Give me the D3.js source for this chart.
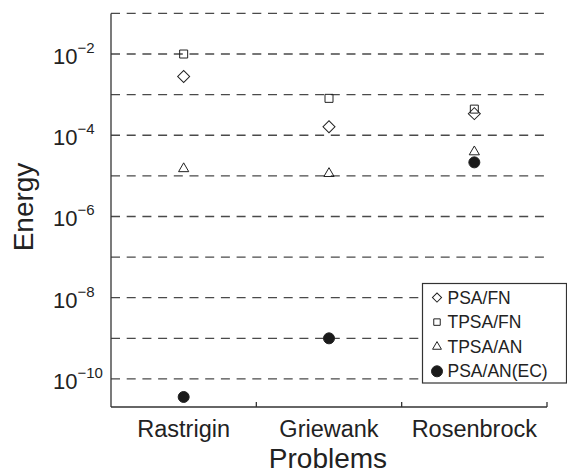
<!DOCTYPE html>
<html>
<head>
<meta charset="utf-8">
<script src="https://cdn.jsdelivr.net/npm/d3@7"></script>
<style>
  html, body { margin: 0; padding: 0; background: #fff; }
  svg { display: block; }
  text { font-family: "Liberation Sans", Arial, sans-serif; fill: #222; }
</style>
</head>
<body>
<svg id="chart" width="567" height="474"></svg>
<script>
// Benchmark problems on the x axis
const problems = ["Rastrigin", "Griewank", "Rosenbrock"];

// Series names and final energies per problem
const seriesNames = ["PSA/FN", "TPSA/FN", "TPSA/AN", "PSA/AN(EC)"];
const psaFN    = [2.8e-3, 1.62e-4, 3.4e-4];
const tpsaFN   = [1.0e-2, 8.1e-4, 4.4e-4];
const tpsaAN   = [1.5e-5, 1.14e-5, 3.9e-5];
const psaANEC  = [3.6e-11, 1.0e-9, 2.15e-5];

// Axis ticks: dashed grid at each decade, labels on even exponents
const gridExponents  = [-1, -2, -3, -4, -5, -6, -7, -8, -9, -10];
const labelExponents = [-2, -4, -6, -8, -10];

const svg = d3.select("#chart");
const plotLeft = 111, plotRight = 547, plotTop = 13.4, plotBottom = 407;

const x = d3.scaleBand().domain(problems).range([plotLeft, plotRight]).padding(0);
const y = d3.scaleLog().domain([2.04e-11, 0.1]).range([plotBottom, plotTop]);

// Dashed grid lines
svg.append("g")
  .selectAll("line")
  .data(gridExponents)
  .join("line")
  .attr("x1", plotLeft).attr("x2", plotRight)
  .attr("y1", d => y(Math.pow(10, d))).attr("y2", d => y(Math.pow(10, d)))
  .attr("stroke", "#4a4a4a")
  .attr("stroke-width", 1.3)
  .attr("stroke-dasharray", "9,6.7");

// Y axis line
svg.append("line")
  .attr("x1", plotLeft).attr("x2", plotLeft).attr("y1", plotTop).attr("y2", plotBottom)
  .attr("stroke", "#333").attr("stroke-width", 1.3);

// X axis with upward ticks at the category boundaries
svg.append("line")
  .attr("x1", plotLeft).attr("x2", plotRight).attr("y1", plotBottom).attr("y2", plotBottom)
  .attr("stroke", "#333").attr("stroke-width", 1.3);
svg.append("g")
  .selectAll("line")
  .data(problems)
  .join("line")
  .attr("x1", d => x(d) + x.bandwidth()).attr("x2", d => x(d) + x.bandwidth())
  .attr("y1", plotBottom).attr("y2", plotBottom - 5)
  .attr("stroke", "#333").attr("stroke-width", 1.3);

// Y tick labels as powers of ten
const yLabels = svg.append("g")
  .selectAll("text")
  .data(labelExponents)
  .join("text")
  .attr("x", 53)
  .attr("y", d => y(Math.pow(10, d)) + 10)
  .style("font-size", "22px");
yLabels.append("tspan").text("10");
yLabels.append("tspan")
  .attr("dy", -11)
  .style("font-size", "15px")
  .text(d => "\u2212" + Math.abs(d));

// Category labels
svg.append("g")
  .selectAll("text")
  .data(problems)
  .join("text")
  .attr("x", d => x(d) + x.bandwidth() / 2)
  .attr("y", 437)
  .attr("text-anchor", "middle")
  .style("font-size", "23.5px")
  .text(d => d);

// Axis titles
svg.append("text")
  .attr("x", 328).attr("y", 468)
  .attr("text-anchor", "middle")
  .style("font-size", "28px")
  .text("Problems");
svg.append("text")
  .attr("transform", "translate(33,207) rotate(-90)")
  .attr("text-anchor", "middle")
  .style("font-size", "28px")
  .text("Energy");

// Marker shapes for each series
const shapes = [
  { type: d3.symbolSquare,   size: 72, rotate: 45, fill: "none" },
  { type: d3.symbolSquare,   size: 64, rotate: 0,  fill: "none" },
  { type: d3.symbolTriangle, size: 45, rotate: 0,  fill: "none" },
  { type: d3.symbolCircle,   size: Math.PI * 5.5 * 5.5, rotate: 0, fill: "#1a1a1a" }
];
const legendShapes = [
  { type: d3.symbolSquare,   size: 42, rotate: 45, fill: "none" },
  { type: d3.symbolSquare,   size: 42, rotate: 0,  fill: "none" },
  { type: d3.symbolTriangle, size: 34, rotate: 0,  fill: "none" },
  { type: d3.symbolCircle,   size: Math.PI * 5.5 * 5.5, rotate: 0, fill: "#1a1a1a" }
];
const allSeries = [psaFN, tpsaFN, tpsaAN, psaANEC];

allSeries.forEach((vals, i) => {
  const s = shapes[i];
  svg.append("g")
    .selectAll("path")
    .data(problems.map((p, j) => ({ p, v: vals[j] })))
    .join("path")
    .attr("d", d3.symbol().type(s.type).size(s.size))
    .attr("transform", d => `translate(${x(d.p) + x.bandwidth() / 2},${y(d.v)}) rotate(${s.rotate})`)
    .attr("fill", s.fill)
    .attr("stroke", "#222")
    .attr("stroke-width", 1);
});

// Legend
const legend = svg.append("g");
legend.append("rect")
  .attr("x", 422.5).attr("y", 283.5).attr("width", 144).attr("height", 99.5)
  .attr("fill", "#fff").attr("stroke", "#333").attr("stroke-width", 1.2);
seriesNames.forEach((name, i) => {
  const s = legendShapes[i];
  const cy = 297.5 + i * 24.6;
  legend.append("path")
    .attr("d", d3.symbol().type(s.type).size(s.size))
    .attr("transform", `translate(437,${cy}) rotate(${s.rotate})`)
    .attr("fill", s.fill)
    .attr("stroke", "#222")
    .attr("stroke-width", 1);
  legend.append("text")
    .attr("x", 447.5).attr("y", cy + 6)
    .style("font-size", "17.5px")
    .text(name);
});
</script>
</body>
</html>
